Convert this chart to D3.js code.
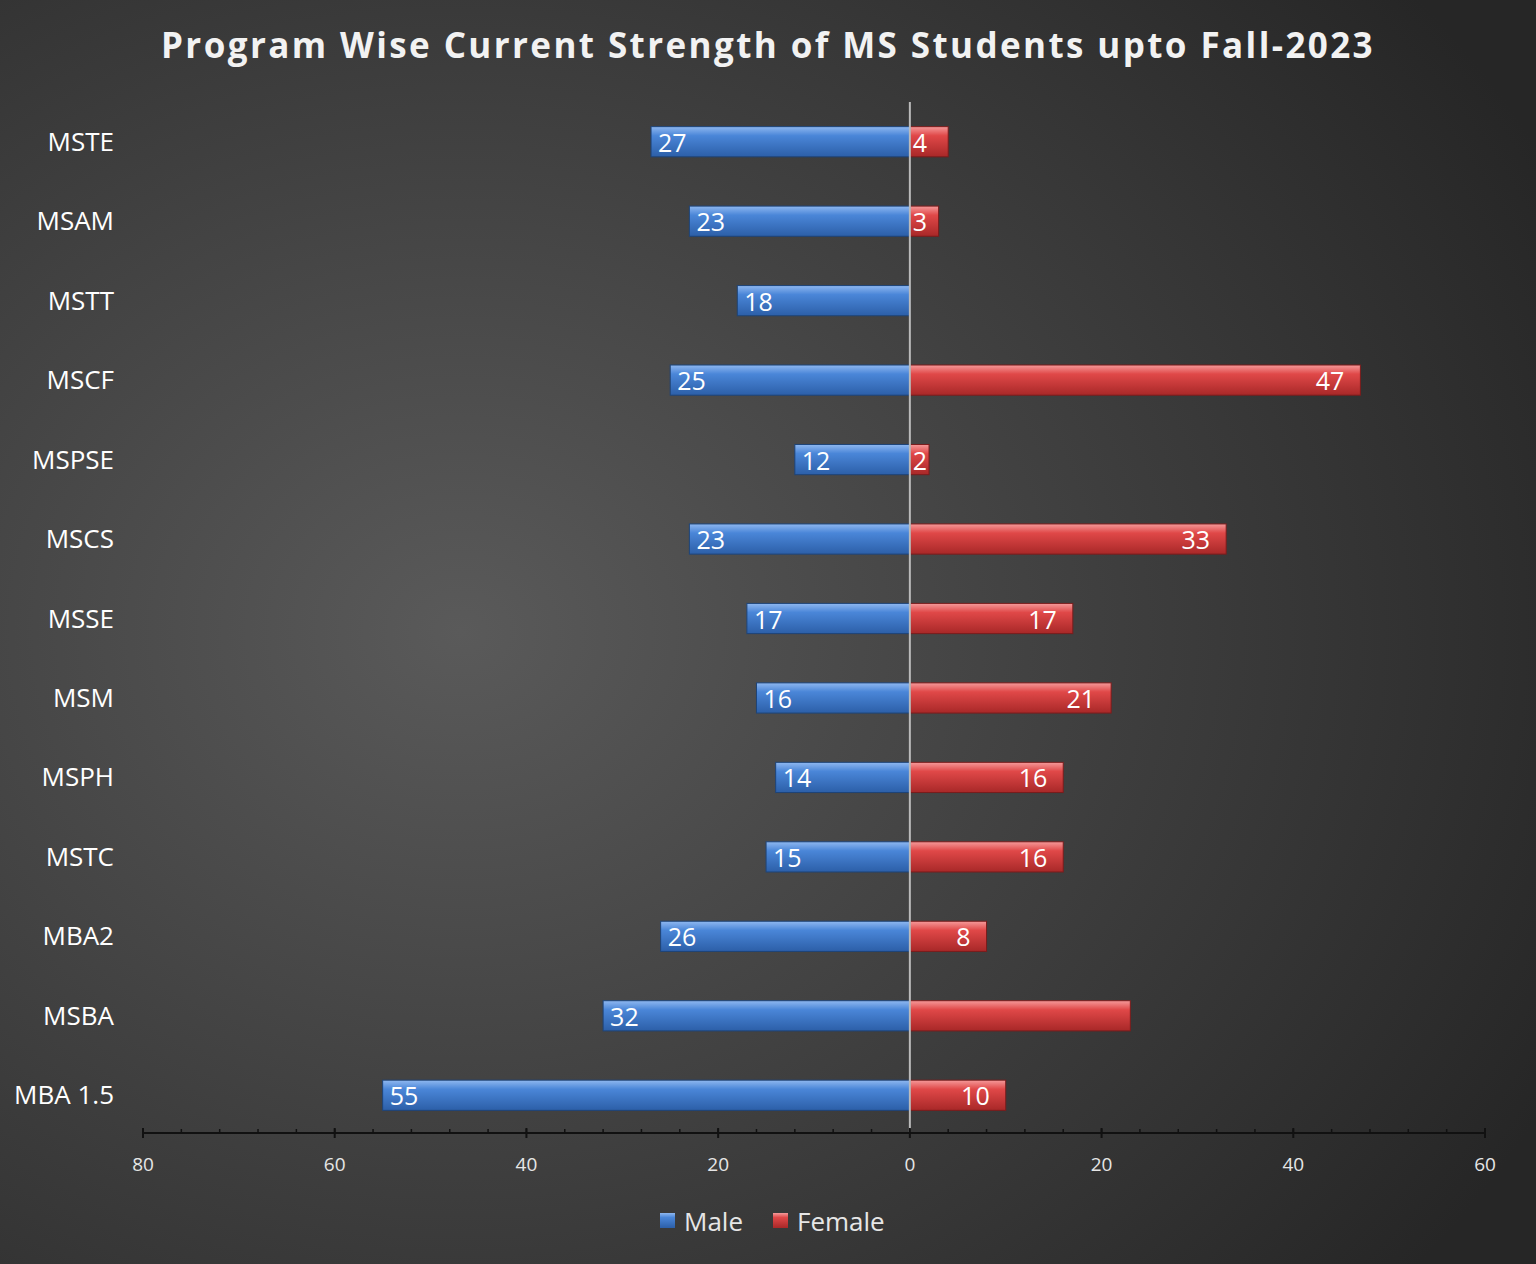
<!DOCTYPE html>
<html><head><meta charset="utf-8">
<script src="https://cdn.jsdelivr.net/npm/d3@7"></script>
<style>body{margin:0;background:#2b2b2b}</style>
</head><body>
<svg id="chart" width="1536" height="1264"></svg>
<script>
const programs = ["MSTE","MSAM","MSTT","MSCF","MSPSE","MSCS","MSSE","MSM","MSPH","MSTC","MBA2","MSBA","MBA 1.5"];
const male   = [27,23,18,25,12,23,17,16,14,15,26,32,55];
const female = [4,3,0,47,2,33,17,21,16,16,8,23,10];
const femaleLabelShown = [true,true,false,true,true,true,true,true,true,true,true,false,true];
const tickValues = [-80,-60,-40,-20,0,20,40,60];

const svg = d3.select("#chart");
const defs = svg.append("defs");

// background
const bg = defs.append("radialGradient").attr("id","bg")
    .attr("cx","0.3").attr("cy","0.5").attr("r","0.8");
bg.append("stop").attr("offset","0").attr("stop-color","#5a5a5a");
bg.append("stop").attr("offset","1").attr("stop-color","#262626");
svg.append("rect").attr("width",1536).attr("height",1264).attr("fill","url(#bg)");

function barGrad(id, light, mid, dark) {
    const g = defs.append("linearGradient").attr("id",id).attr("x1",0).attr("x2",0).attr("y1",0).attr("y2",1);
    g.append("stop").attr("offset","0").attr("stop-color",light);
    g.append("stop").attr("offset","0.3").attr("stop-color",mid);
    g.append("stop").attr("offset","1").attr("stop-color",dark);
}
barGrad("gMale","#8fb8f0","#4a86d8","#2c5fa8");
barGrad("gFemale","#f59a9a","#e04848","#a82828");

const x = d3.scaleLinear().domain([-80,60]).range([143,1485]);
const y = d3.scaleBand().domain(programs).range([102,1135]).paddingInner(0.62).paddingOuter(0.31);

svg.append("text").attr("x",768).attr("y",58).attr("text-anchor","middle")
    .attr("fill","#f2f2f2").attr("font-family","Open Sans, sans-serif")
    .attr("font-weight","bold").attr("font-size",35).attr("letter-spacing",2.4)
    .text("Program Wise Current Strength of MS Students upto Fall-2023");

const rows = svg.append("g").selectAll("g").data(programs).join("g");

rows.append("rect")
    .attr("x",(d,i)=>x(-male[i])).attr("y",d=>y(d))
    .attr("width",(d,i)=>x(0)-x(-male[i])).attr("height",y.bandwidth())
    .attr("fill","url(#gMale)").attr("stroke","#1e4478").attr("stroke-width",1);
rows.append("rect")
    .attr("x",x(0)).attr("y",d=>y(d))
    .attr("width",(d,i)=>x(female[i])-x(0)).attr("height",y.bandwidth())
    .attr("fill","url(#gFemale)").attr("stroke","#7a1c1c").attr("stroke-width",1)
    .attr("display",(d,i)=>female[i]>0?null:"none");

const lblFont = "Open Sans, sans-serif";
rows.append("text")
    .attr("x",(d,i)=>x(-male[i])+7).attr("y",d=>y(d)+y.bandwidth()/2+10)
    .attr("fill","#fff").attr("font-family",lblFont).attr("font-size",25)
    .text((d,i)=>male[i]);
rows.append("text")
    .attr("x",(d,i)=>female[i]<5?x(0)+3:x(female[i])-16).attr("y",d=>y(d)+y.bandwidth()/2+10)
    .attr("text-anchor",(d,i)=>female[i]<5?"start":"end")
    .attr("fill","#fff").attr("font-family",lblFont).attr("font-size",25)
    .text((d,i)=>femaleLabelShown[i]?female[i]:"");

rows.append("text")
    .attr("x",114).attr("y",d=>y(d)+y.bandwidth()/2+9)
    .attr("text-anchor","end").attr("fill","#fff")
    .attr("font-family",lblFont).attr("font-size",26)
    .text(d=>d);

// center line
svg.append("line").attr("x1",x(0)).attr("x2",x(0)).attr("y1",102).attr("y2",1133)
    .attr("stroke","#bbbbbb").attr("stroke-width",2);

// axis
const axisY = 1133;
const ax = svg.append("g").attr("transform",`translate(0,${axisY})`);
ax.append("line").attr("x1",143).attr("x2",1485).attr("stroke","#111").attr("stroke-width",2);
ax.selectAll("line.minor").data(d3.range(-80,61,4)).join("line").attr("class","minor")
    .attr("x1",d=>x(d)).attr("x2",d=>x(d)).attr("y1",-4).attr("y2",0)
    .attr("stroke","#111").attr("stroke-width",1.5);
ax.selectAll("line.major").data(tickValues).join("line").attr("class","major")
    .attr("x1",d=>x(d)).attr("x2",d=>x(d)).attr("y1",-5).attr("y2",5)
    .attr("stroke","#111").attr("stroke-width",2);
ax.selectAll("text").data(tickValues).join("text")
    .attr("x",d=>x(d)).attr("y",38).attr("text-anchor","middle")
    .attr("fill","#e6e6e6").attr("font-family",lblFont).attr("font-size",19)
    .text(d=>Math.abs(d));

// legend
const legend = [["Male","url(#gMale)",660],["Female","url(#gFemale)",773]];
const lg = svg.append("g").selectAll("g").data(legend).join("g");
lg.append("rect").attr("x",d=>d[2]).attr("y",1213).attr("width",15).attr("height",15).attr("fill",d=>d[1]);
lg.append("text").attr("x",d=>d[2]+24).attr("y",1231).attr("fill","#e6e6e6")
    .attr("font-family",lblFont).attr("font-size",26).text(d=>d[0]);
</script>
</body></html>
